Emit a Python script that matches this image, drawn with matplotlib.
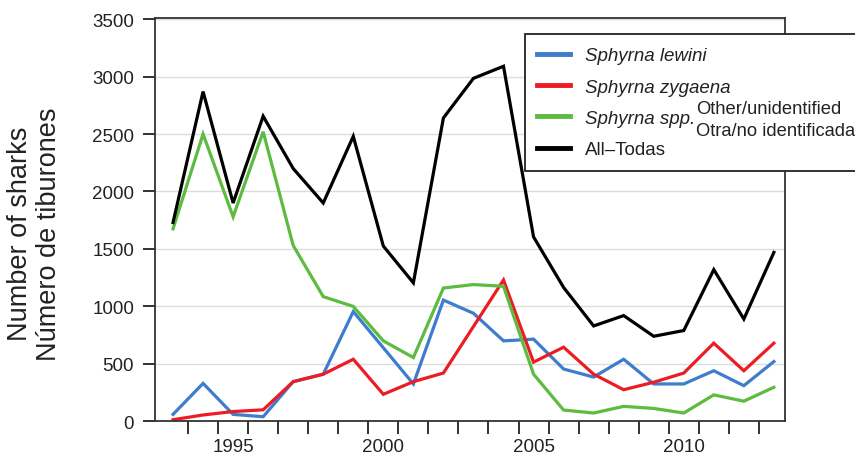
import matplotlib
matplotlib.use("Agg")
import matplotlib.pyplot as plt
from matplotlib.patches import Rectangle
from matplotlib.ticker import FixedLocator

plt.rcParams['font.family'] = ['Liberation Sans', 'DejaVu Sans']

years = list(range(1993, 2014))
lewini = [60, 330, 60, 40, 345, 410, 955, 640, 325, 1055, 940, 700, 715, 455, 385, 540, 325, 325, 440, 310, 520]
zygaena = [14, 55, 85, 100, 345, 410, 540, 235, 345, 420, 825, 1230, 515, 645, 410, 275, 340, 420, 680, 440, 680]
spp = [1675, 2500, 1780, 2520, 1530, 1085, 1000, 700, 555, 1160, 1190, 1175, 410, 98, 72, 130, 112, 72, 230, 175, 296]
total = [1730, 2870, 1900, 2655, 2200, 1900, 2480, 1525, 1205, 2640, 2985, 3090, 1605, 1165, 830, 920, 740, 790, 1320, 890, 1470]

labels = ["Sphyrna lewini", "Sphyrna zygaena", "Sphyrna spp.", "All\u2013Todas"]
colors = ["#3d7dcb", "#ec1c24", "#5dbb3f", "#000000"]
year_labels = [1995, 2000, 2005, 2010]
y_ticks = [0, 500, 1000, 1500, 2000, 2500, 3000, 3500]

W, H = 855, 456
fig = plt.figure(figsize=(W / 100, H / 100), dpi=100)
ax = fig.add_axes([155 / W, 1 - 422.3 / H, (785 - 155) / W, (422.3 - 19) / H])

series = [lewini, zygaena, spp, total]
handles = []
for vals, c, lab in zip(series, colors, labels):
    h, = ax.plot(years, vals, color=c, lw=2.3, label=lab, solid_joinstyle='miter')
    handles.append(h)

ax.set_xlim(1992.4, 2013.37)
ax.set_ylim(0, 3510)

ax.set_yticks(y_ticks)
ax.yaxis.grid(True, color="#dcdcdc", lw=1.0)
ax.set_axisbelow(True)
ax.tick_params(axis='y', direction='out', length=9, width=1.3, pad=6,
               labelsize=13.5, colors="#222222")

ax.set_xticks(year_labels)
ax.xaxis.set_minor_locator(FixedLocator([y + 0.5 for y in years[:-1]]))
ax.tick_params(axis='x', which='major', length=0, pad=12, labelsize=13.5, colors="#222222")
ax.tick_params(axis='x', which='minor', direction='out', length=9, width=1.3, colors="#222222")

for s in ax.spines.values():
    s.set_color("#333333")
    s.set_linewidth(1.3)

fig.text(35 / W, 1 - 234 / H, "Number of sharks\nN\u00famero de tiburones",
         rotation=90, ha='center', va='center', fontsize=19.5,
         color="#222222", linespacing=1.15)

# legend frame running past the right edge of the figure
fig.patches.append(Rectangle((525 / W, 1 - 172 / H), 360 / W, (172 - 35) / H,
                             transform=fig.transFigure, facecolor='white',
                             edgecolor='#222222', lw=1.3, zorder=1))

leg = fig.legend(handles=handles, labels=labels, loc='upper left',
                 bbox_to_anchor=(524 / W, 1 - 35 / H), frameon=False,
                 fontsize=13.5, handlelength=1.75, handletextpad=0.8,
                 labelspacing=0.76, borderpad=0.2)
for i, t in enumerate(leg.get_texts()):
    t.set_color("#222222")
    if i < 3:
        t.set_style('italic')
for lh in leg.get_lines():
    lh.set_linewidth(3.5)

fig.canvas.draw()
ext = leg.get_texts()[2].get_window_extent()
fig.text((ext.x1 + 1) / W, (ext.y0 + ext.y1) / 2 / H - 1 / H,
         "Other/unidentified\nOtra/no identificada",
         ha='left', va='center', fontsize=13.2, color="#222222",
         linespacing=1.4, zorder=6)

fig.savefig("out.png", dpi=100)
